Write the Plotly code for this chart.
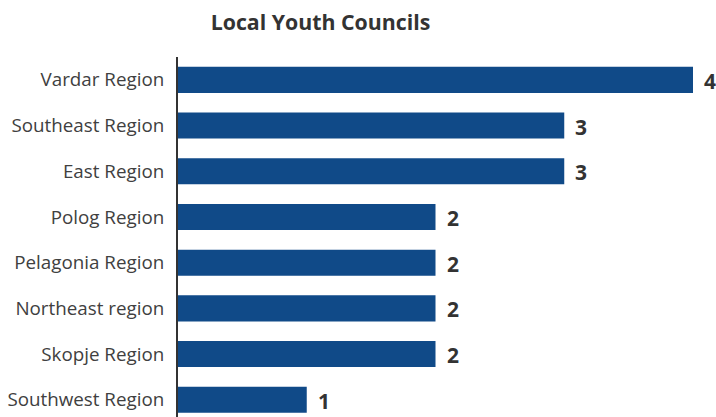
import plotly.graph_objects as go

# Local youth councils per planning region
regions = [
    "Vardar Region",
    "Southeast Region",
    "East Region",
    "Polog Region",
    "Pelagonia Region",
    "Northeast region",
    "Skopje Region",
    "Southwest Region",
]
councils = [4, 3, 3, 2, 2, 2, 2, 1]

BAR_COLOR = "#104a88"
TEXT_COLOR = "#333333"

fig = go.Figure(
    go.Bar(
        x=councils,
        y=regions,
        orientation="h",
        marker=dict(color=BAR_COLOR, line=dict(width=0)),
        hoverinfo="x+y",
    )
)

# value labels placed just past the end of each bar
for region, n in zip(regions, councils):
    fig.add_annotation(
        x=n,
        y=region,
        text=f"<b>{n}</b>",
        showarrow=False,
        xanchor="left",
        yanchor="middle",
        xshift=9,
        yshift=-1,
        font=dict(family="Open Sans", size=21, color=TEXT_COLOR),
    )

fig.update_layout(
    width=716,
    height=417,
    margin=dict(l=178, r=0, t=57, b=0),
    paper_bgcolor="white",
    plot_bgcolor="white",
    bargap=0.43,
    showlegend=False,
    title=dict(
        text="<b>Local Youth Councils</b>",
        font=dict(family="Open Sans", size=21.3, color=TEXT_COLOR),
        x=320.5 / 716,
        xanchor="center",
        xref="container",
        y=1 - 23 / 417,
        yanchor="middle",
        yref="container",
    ),
    xaxis=dict(
        range=[0, 538 / 128.75],
        visible=False,
        showgrid=False,
        zeroline=False,
    ),
    yaxis=dict(
        categoryorder="array",
        categoryarray=regions,
        range=[7.377, -0.5],
        showline=True,
        linecolor="#333333",
        linewidth=2,
        showgrid=False,
        ticks="",
        ticklabelstandoff=8,
        tickfont=dict(family="Open Sans", size=18.8, color="#404040"),
    ),
)

fig.write_html("out.html")
